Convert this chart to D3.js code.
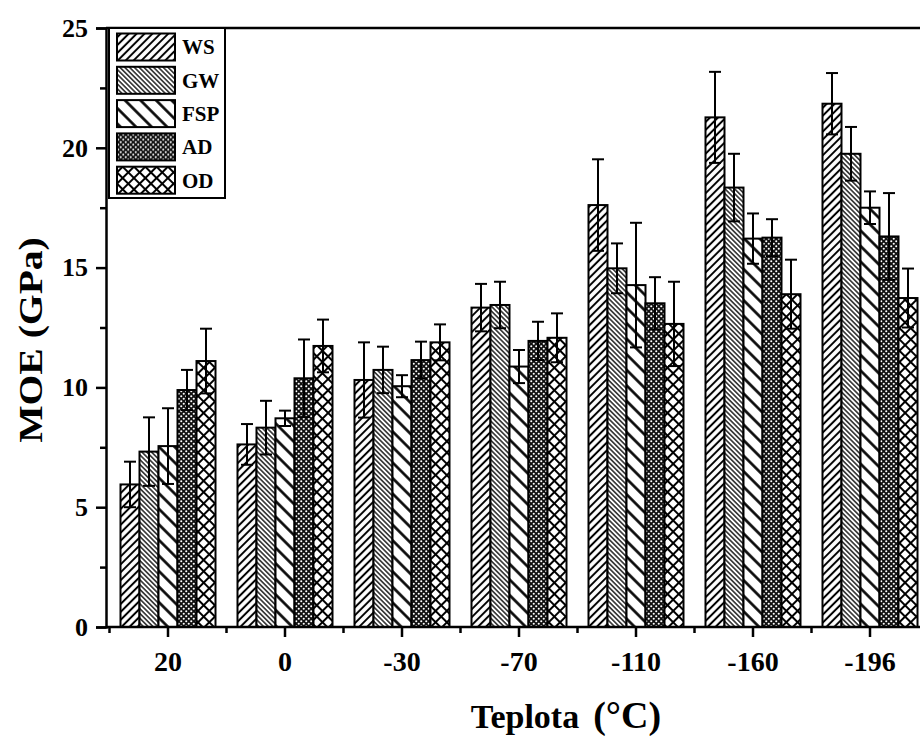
<!DOCTYPE html>
<html>
<head>
<meta charset="utf-8">
<script src="https://cdn.jsdelivr.net/npm/d3@7"></script>
<style>
  body { margin: 0; background: #fff; }
  svg text { font-family: "Liberation Serif", "Times New Roman", serif; font-weight: bold; fill: #000; }
</style>
</head>
<body>
<svg id="chart" width="920" height="736"></svg>
<script>
var categories = ["20", "0", "-30", "-70", "-110", "-160", "-196"];
var seriesNames = ["WS", "GW", "FSP", "AD", "OD"];

var ws = [5.95, 7.62, 10.31, 13.33, 17.61, 21.27, 21.84];
var wsErr = [0.95, 0.85, 1.57, 0.99, 1.91, 1.9, 1.28];
var gw = [7.32, 8.32, 10.73, 13.44, 14.97, 18.34, 19.75];
var gwErr = [1.43, 1.12, 0.97, 0.97, 1.04, 1.41, 1.12];
var fsp = [7.55, 8.71, 10.05, 10.87, 14.27, 16.21, 17.5];
var fspErr = [1.58, 0.32, 0.46, 0.69, 2.6, 1.05, 0.68];
var ad = [9.89, 10.38, 11.14, 11.94, 13.51, 16.25, 16.3];
var adErr = [0.84, 1.62, 0.77, 0.8, 1.09, 0.77, 1.81];
var od = [11.1, 11.73, 11.88, 12.07, 12.65, 13.89, 13.73];
var odErr = [1.35, 1.1, 0.75, 1.02, 1.76, 1.44, 1.23];

var yTicks = [0, 5, 10, 15, 20, 25];
var yMinorTicks = [2.5, 7.5, 12.5, 17.5, 22.5];

var values = [ws, gw, fsp, ad, od];
var errors = [wsErr, gwErr, fspErr, adErr, odErr];

var axisLeftX = 106;
var svg = d3.select("#chart");

var x0 = d3.scaleBand()
    .domain(categories)
    .range([109.5, 109.5 + 117 * 7])
    .paddingInner(0.188)
    .paddingOuter(0.094);

var x1 = d3.scaleBand()
    .domain(seriesNames)
    .range([0, x0.bandwidth()]);

var y = d3.scaleLinear()
    .domain([0, 25])
    .range([627, 28]);

// fill patterns
var defs = svg.append("defs");

function linePattern(id, spacing, angle, width) {
    var p = defs.append("pattern")
        .attr("id", id)
        .attr("patternUnits", "userSpaceOnUse")
        .attr("width", spacing)
        .attr("height", spacing)
        .attr("patternTransform", "rotate(" + angle + ")");
    p.append("rect").attr("width", spacing).attr("height", spacing).attr("fill", "#fff");
    p.append("line")
        .attr("x1", spacing / 2).attr("y1", 0)
        .attr("x2", spacing / 2).attr("y2", spacing)
        .attr("stroke", "#000").attr("stroke-width", width);
}
linePattern("p-ws", 5.6, 45, 2);
linePattern("p-gw", 3.4, -45, 1.3);
linePattern("p-fsp", 11, -45, 2.6);

var pad = defs.append("pattern")
    .attr("id", "p-ad")
    .attr("patternUnits", "userSpaceOnUse")
    .attr("width", 5)
    .attr("height", 5);
pad.append("rect").attr("width", 5).attr("height", 5).attr("fill", "#111");
pad.append("circle").attr("cx", 1.25).attr("cy", 1.25).attr("r", 1.05).attr("fill", "#fff");
pad.append("circle").attr("cx", 3.75).attr("cy", 3.75).attr("r", 1.05).attr("fill", "#fff");

var pod = defs.append("pattern")
    .attr("id", "p-od")
    .attr("patternUnits", "userSpaceOnUse")
    .attr("width", 8)
    .attr("height", 8)
    .attr("patternTransform", "rotate(45)");
pod.append("rect").attr("width", 8).attr("height", 8).attr("fill", "#fff");
pod.append("line").attr("x1", 4).attr("y1", 0).attr("x2", 4).attr("y2", 8)
    .attr("stroke", "#000").attr("stroke-width", 2);
pod.append("line").attr("x1", 0).attr("y1", 4).attr("x2", 8).attr("y2", 4)
    .attr("stroke", "#000").attr("stroke-width", 2);

var fills = ["url(#p-ws)", "url(#p-gw)", "url(#p-fsp)", "url(#p-ad)", "url(#p-od)"];

// bars
var rows = [];
categories.forEach(function(c, i) {
    seriesNames.forEach(function(s, j) {
        rows.push({cat: c, series: s, idx: j, value: values[j][i], err: errors[j][i]});
    });
});

var bars = svg.append("g").attr("class", "bars");

bars.selectAll("rect")
    .data(rows)
    .enter()
    .append("rect")
    .attr("x", function(d) { return x0(d.cat) + x1(d.series); })
    .attr("y", function(d) { return y(d.value); })
    .attr("width", x1.bandwidth())
    .attr("height", function(d) { return y(0) - y(d.value); })
    .attr("fill", function(d) { return fills[d.idx]; })
    .attr("stroke", "#000")
    .attr("stroke-width", 2);

var err = svg.append("g").attr("class", "errors")
    .attr("stroke", "#000")
    .attr("stroke-width", 2);

var errG = err.selectAll("g")
    .data(rows)
    .enter()
    .append("g")
    .attr("transform", function(d) {
        return "translate(" + (x0(d.cat) + x1(d.series) + x1.bandwidth() / 2) + ",0)";
    });

errG.append("line")
    .attr("x1", 0).attr("x2", 0)
    .attr("y1", function(d) { return y(d.value - d.err); })
    .attr("y2", function(d) { return y(d.value + d.err); });
errG.append("line")
    .attr("x1", -6).attr("x2", 6)
    .attr("y1", function(d) { return y(d.value + d.err); })
    .attr("y2", function(d) { return y(d.value + d.err); });
errG.append("line")
    .attr("x1", -6).attr("x2", 6)
    .attr("y1", function(d) { return y(d.value - d.err); })
    .attr("y2", function(d) { return y(d.value - d.err); });

// axes
var yAxis = svg.append("g")
    .attr("transform", "translate(" + axisLeftX + ",0)")
    .call(d3.axisLeft(y).tickValues(yTicks).tickSize(10).tickPadding(8).tickFormat(d3.format("d")));
yAxis.selectAll("text").style("font-size", "26px");

svg.append("g")
    .attr("transform", "translate(" + axisLeftX + ",0)")
    .call(d3.axisLeft(y).tickValues(yMinorTicks).tickSize(6).tickFormat(""))
    .select(".domain").remove();

var xAxis = svg.append("g")
    .attr("transform", "translate(0," + y(0) + ")")
    .call(d3.axisBottom(x0).tickSize(10).tickPadding(14).tickSizeOuter(0));
xAxis.selectAll("text").style("font-size", "28px");
xAxis.select(".domain").attr("d", "M" + axisLeftX + ",0H920");

var boundaries = categories.map(function(c) { return x0(c) - x0.step() * x0.paddingInner() / 2; });
svg.append("g")
    .attr("transform", "translate(0," + y(0) + ")")
    .selectAll("line")
    .data(boundaries)
    .enter()
    .append("line")
    .attr("x1", function(d) { return d; })
    .attr("x2", function(d) { return d; })
    .attr("y1", 0).attr("y2", 6)
    .attr("stroke", "#000").attr("stroke-width", 2.5);

svg.selectAll(".domain, .tick line").attr("stroke", "#000").attr("stroke-width", 2.5);

// top frame
svg.append("line")
    .attr("x1", axisLeftX).attr("x2", 920)
    .attr("y1", y(25)).attr("y2", y(25))
    .attr("stroke", "#000").attr("stroke-width", 2.5);

// legend
var legend = svg.append("g").attr("class", "legend");
legend.append("rect")
    .attr("x", axisLeftX + 3).attr("y", y(25))
    .attr("width", 116).attr("height", 170)
    .attr("fill", "#fff").attr("stroke", "#000").attr("stroke-width", 2);

var item = legend.selectAll("g.item")
    .data(seriesNames)
    .enter()
    .append("g")
    .attr("class", "item")
    .attr("transform", function(d, i) { return "translate(117," + (33.5 + i * 33.3) + ")"; });

item.append("rect")
    .attr("width", 58).attr("height", 27)
    .attr("fill", function(d, i) { return fills[i]; })
    .attr("stroke", "#000").attr("stroke-width", 2);

item.append("text")
    .attr("x", 65).attr("y", 13.5)
    .attr("dy", "0.35em")
    .style("font-size", "21px")
    .text(function(d) { return d; });

// axis titles
svg.append("text")
    .attr("transform", "translate(42,340) rotate(-90) scale(1.2,1)")
    .attr("text-anchor", "middle")
    .style("font-size", "33px")
    .text("MOE (GPa)");

var xt = svg.append("text")
    .attr("x", 566).attr("y", 728)
    .attr("text-anchor", "middle")
    .style("font-size", "34px");
xt.append("tspan").text("Teplota");
xt.append("tspan").attr("dx", 14).style("font-size", "38px").text("(°C)");
</script>
</body>
</html>
